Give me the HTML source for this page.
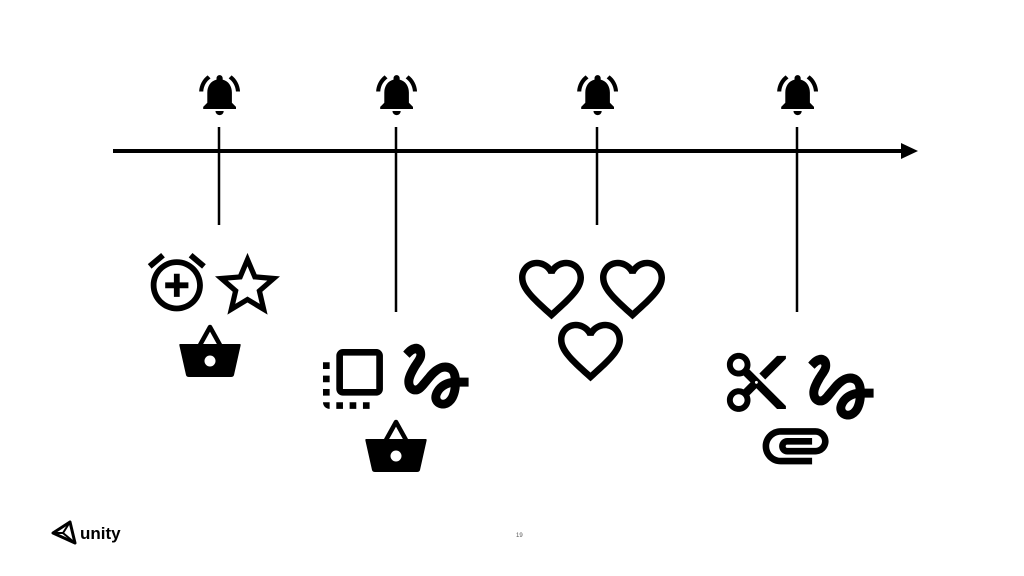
<!DOCTYPE html>
<html><head><style>
html,body{margin:0;padding:0;background:#fff;}
svg{display:block;}
</style></head><body>
<svg width="1024" height="576" viewBox="0 0 1024 576" xmlns="http://www.w3.org/2000/svg">
<defs>
<path id="bell" d="M7.58 4.08L6.15 2.65C3.75 4.48 2.17 7.3 2.03 10.5h2c.15-2.650 1.51-4.97 3.55-6.42zm12.39 6.42h2c-.15-3.2-1.73-6.02-4.12-7.85l-1.42 1.43c2.02 1.45 3.39 3.77 3.54 6.42zM18 11c0-3.07-1.64-5.64-4.5-6.32V4c0-.83-.67-1.5-1.5-1.5s-1.5.67-1.5 1.5v.68C7.630 5.36 6 7.92 6 11v5l-2 2v1h16v-1l-2-2v-5zm-6 11c.14 0 .27-.01.4-.04.65-.14 1.18-.58 1.44-1.18.1-.24.15-.5.15-.78h-4c.01 1.1.9 2 2.01 2z"/>
<path id="heart" d="M16.5 3c-1.74 0-3.41.81-4.5 2.09C10.91 3.81 9.24 3 7.5 3 4.42 3 2 5.42 2 8.5c0 3.78 3.4 6.86 8.55 11.54L12 21.35l1.45-1.32C18.6 15.36 22 12.280 22 8.5 22 5.42 19.58 3 16.5 3zm-4.4 15.55l-.1.1-.1-.1C7.14 14.24 4 11.39 4 8.5 4 6.5 5.5 5 7.5 5c1.54 0 3.04.99 3.57 2.36h1.87C13.46 5.99 14.96 5 16.5 5c2 0 3.5 1.5 3.5 3.5 0 2.89-3.14 5.74-7.9 10.05z"/>
<path id="gesture" d="M4.59 6.89c.7-.71 1.4-1.35 1.71-1.22.5.2 0 1.03-.3 1.52-.25.42-2.86 3.89-2.86 6.31 0 1.28.48 2.34 1.34 2.98.75.56 1.74.73 2.64.46 1.07-.31 1.95-1.4 3.06-2.77 1.21-1.49 2.83-3.44 4.08-3.44 1.63 0 1.65 1.01 1.76 1.79-3.78.64-5.38 3.67-5.38 5.37 0 1.7 1.44 3.09 3.21 3.09 1.63 0 4.29-1.33 4.69-6.1H21v-2.5h-2.470c-.15-1.65-1.09-4.2-4.03-4.2-2.25 0-4.18 1.91-4.94 2.84-.58.73-2.06 2.48-2.29 2.720-.25.3-.68.84-1.11.84-.45 0-.72-.83-.36-1.92.35-1.09 1.4-2.86 1.85-3.52.78-1.14 1.3-1.92 1.3-3.28C8.95 3.69 7.31 3 6.44 3 5.12 3 3.97 4 3.72 4.25c-.36.36-.66.66-.88.93l1.75 1.71zm9.29 11.66c-.31 0-.74-.26-.74-.72 0-.6.73-2.2 2.87-2.76-.3 2.69-1.43 3.48-2.13 3.48z"/>
<g id="basket">
<path d="M-10 19 L0 1 L10 19" fill="none" stroke="#000" stroke-width="4.5" stroke-linejoin="round"/>
<path d="M-30 18 H30 Q31 18 30.5 20 L24 49 Q23.5 51 21 51 H-21 Q-23.5 51 -24 49 L-30.5 20 Q-31 18 -30 18 Z" fill="#000"/>
<circle cx="0" cy="35" r="5.5" fill="#fff"/>
</g>
</defs>

<!-- timeline -->
<line x1="113" y1="151" x2="905" y2="151" stroke="#000" stroke-width="4"/>
<polygon points="901,143 918,151 901,159" fill="#000"/>

<g stroke="#000" stroke-width="2.5">
<line x1="219" y1="127" x2="219" y2="225"/>
<line x1="396" y1="127" x2="396" y2="312"/>
<line x1="597" y1="127" x2="597" y2="225"/>
<line x1="797" y1="127" x2="797" y2="312"/>
</g>

<use href="#bell" transform="translate(195,70) scale(2.05)"/>
<use href="#bell" transform="translate(372,70) scale(2.05)"/>
<use href="#bell" transform="translate(573,70) scale(2.05)"/>
<use href="#bell" transform="translate(773,70) scale(2.05)"/>

<!-- group 1 -->
<path transform="translate(142,247.6) scale(2.9)" d="M7.88 3.39L6.6 1.86 2 5.71l1.29 1.53 4.59-3.850zM22 5.72l-4.6-3.86-1.29 1.53 4.6 3.86L22 5.72zM12 4c-4.97 0-9 4.03-9 9s4.02 9 9 9c4.97 0 9-4.03 9-9s-4.03-9-9-9zm0 16c-3.87 0-7-3.13-7-7s3.13-7 7-7 7 3.13 7 7-3.13 7-7 7zm1-11h-2v3H8v2h3v3h2v-3h3v-2h-3V9z"/>
<path transform="translate(208.5,246.4) scale(3.25)" d="M22 9.24l-7.19-.62L12 2 9.19 8.63 2 9.24l5.46 4.73L5.82 21 12 17.27 18.18 21l-1.63-7.03L22 9.24zM12 15.4l-3.76 2.27 1-4.28-3.32-2.88 4.38-.38L12 6.1l1.71 4.04 4.38.38-3.32 2.88 1 4.28L12 15.4z"/>
<use href="#basket" transform="translate(210,326)"/>

<!-- group 2 -->
<path transform="translate(313,339) scale(3.33)" d="M3 13h2v-2H3v2zm0 4h2v-2H3v2zm2 4v-2H3c0 1.1.89 2 2 2zM3 9h2V7H3v2zm12 12h2v-2h-2v2zm4-18H9c-1.11 0-2 .9-2 2v10c0 1.1.89 2 2 2h10c1.1 0 2-.9 2-2V5c0-1.1-.9-2-2-2zm0 12H9V5h10v10zm-8 6h2v-2h-2v2zm-4 0h2v-2H7v2z"/>
<use href="#gesture" transform="translate(393,333) scale(3.6)"/>
<use href="#basket" transform="translate(396,421)"/>

<!-- group 3 -->
<use href="#heart" transform="translate(512.5,250) scale(3.25)"/>
<use href="#heart" transform="translate(593.5,250) scale(3.25)"/>
<use href="#heart" transform="translate(551.5,312) scale(3.25)"/>

<!-- group 4 -->
<path transform="translate(721,347) scale(2.95)" d="M9.64 7.64c.23-.5.36-1.05.36-1.64 0-2.21-1.79-4-4-4S2 3.79 2 6s1.79 4 4 4c.59 0 1.14-.13 1.64-.36L10 12l-2.36 2.36C7.14 14.13 6.59 14 6 14c-2.21 0-4 1.79-4 4s1.79 4 4 4 4-1.79 4-4c0-.59-.13-1.14-.36-1.64L12 14l7 7h3v-1L9.64 7.64zM6 8c-1.1 0-2-.89-2-2s.9-2 2-2 2 .89 2 2-.9 2-2 2zm0 12c-1.1 0-2-.89-2-2s.9-2 2-2 2 .89 2 2-.9 2-2 2zm6-7.5c-.28 0-.5-.22-.5-.5s.22-.5.5-.5.5.22.5.5-.22.5-.5.5zM19 3l-6 6 2 2 7-7V3z"/>
<use href="#gesture" transform="translate(798,344) scale(3.6)"/>
<path transform="translate(756,405) scale(3.3)" d="M2 12.5C2 9.46 4.46 7 7.5 7H18c2.21 0 4 1.79 4 4s-1.79 4-4 4H9.5C8.12 15 7 13.88 7 12.5S8.12 10 9.5 10H17v2H9.41c-.55 0-.55 1 0 1H18c1.1 0 2-.9 2-2s-.9-2-2-2H7.5C5.57 9 4 10.57 4 12.5S5.57 16 7.5 16H17v2H7.5C4.46 18 2 15.54 2 12.5z"/>

<!-- footer -->
<g transform="translate(53,522)">
<path d="M0 11 L17 0 L22 21 Z" fill="none" stroke="#000" stroke-width="3" stroke-linejoin="round"/>
<path d="M17 0 L10 11 L22 21 M0 11 L10 11" fill="none" stroke="#000" stroke-width="2"/>
</g>
<text x="80" y="539" font-family="Liberation Sans, sans-serif" font-weight="bold" font-size="17" fill="#000">unity</text>
<text x="516" y="537" font-family="Liberation Sans, sans-serif" font-size="6" fill="#555">19</text>
</svg>
</body></html>
